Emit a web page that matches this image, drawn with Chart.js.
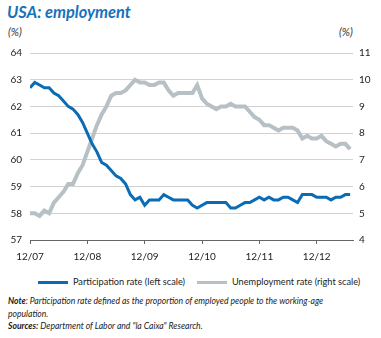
<!DOCTYPE html>
<html>
<head>
<meta charset="utf-8">
<script src="https://cdn.jsdelivr.net/npm/chart.js@4/dist/chart.umd.min.js"></script>
<style>
  html, body { margin: 0; padding: 0; background: #fff; }
  body { width: 381px; height: 338px; position: relative; overflow: hidden; font-family: Lato, "Open Sans", sans-serif; color: #222; }
  #titulo { position: absolute; left: 7px; top: 2px; font-size: 16.4px; font-weight: bold; font-style: italic; color: #1672bb; }
  .unidade { position: absolute; top: 25px; font-size: 11px; font-style: italic; color: #333; }
  #caixa { position: absolute; left: 0; top: 36px; width: 381px; height: 234px; }
  #legenda { position: absolute; left: 38px; top: 276px; font-size: 9.2px; color: #222; white-space: nowrap; }
  #legenda .item { position: absolute; top: 0; }
  #legenda .traco { position: absolute; top: 5px; left: 0; width: 30px; height: 3px; }
  #legenda .texto { position: absolute; left: 35px; top: 0; line-height: 12px; }
  #notas { position: absolute; left: 8px; top: 295px; font-size: 8.6px; font-style: italic; line-height: 12.5px; color: #222; }
</style>
</head>
<body>
<div id="titulo">USA: employment</div>
<div class="unidade" style="left:8px">(%)</div>
<div class="unidade" style="left:339px">(%)</div>
<div id="caixa"><canvas id="grafico_emprego"></canvas></div>
<div id="legenda"></div>
<div id="notas">
  <b>Note</b>: Participation rate defined as the proportion of employed people to the working-age<br>
  population.<br>
  <b>Sources:</b> Department of Labor and "la Caixa" Research.
</div>
<script>
// monthly, 12/07 to 07/13
const taxaParticipacao = [
  62.7, 62.9, 62.8, 62.7, 62.7, 62.5, 62.4, 62.2, 62.0, 61.9, 61.7, 61.4,
  61.0, 60.6, 60.3, 59.9, 59.8, 59.6, 59.4, 59.3, 59.1, 58.7, 58.5, 58.6,
  58.3, 58.5, 58.5, 58.5, 58.7, 58.6, 58.5, 58.5, 58.5, 58.5, 58.3, 58.2,
  58.3, 58.4, 58.4, 58.4, 58.4, 58.4, 58.2, 58.2, 58.3, 58.4, 58.4, 58.5,
  58.6, 58.5, 58.6, 58.5, 58.5, 58.6, 58.6, 58.5, 58.4, 58.7, 58.7, 58.7,
  58.6, 58.6, 58.6, 58.5, 58.6, 58.6, 58.7, 58.7
];
const taxaDesemprego = [
  5.0, 5.0, 4.9, 5.1, 5.0, 5.4, 5.6, 5.8, 6.1, 6.1, 6.5, 6.8,
  7.3, 7.8, 8.3, 8.7, 9.0, 9.4, 9.5, 9.5, 9.6, 9.8, 10.0, 9.9,
  9.9, 9.8, 9.8, 9.9, 9.9, 9.6, 9.4, 9.5, 9.5, 9.5, 9.5, 9.8,
  9.3, 9.1, 9.0, 8.9, 9.0, 9.0, 9.1, 9.0, 9.0, 9.0, 8.8, 8.6,
  8.5, 8.3, 8.3, 8.2, 8.1, 8.2, 8.2, 8.2, 8.1, 7.8, 7.9, 7.8,
  7.8, 7.9, 7.7, 7.6, 7.5, 7.6, 7.6, 7.4
];
const rotulosAno = ['12/07', '12/08', '12/09', '12/10', '12/11', '12/12'];

const pontos = arr => arr.map((v, i) => ({ x: i, y: v }));
const fonteEixo = { family: 'Lato, "Open Sans", sans-serif', size: 10 };

const ctx = document.getElementById('grafico_emprego').getContext('2d');
const grafico = new Chart(ctx, {
  type: 'line',
  data: {
    datasets: [
      {
        label: 'Participation rate (left scale)',
        data: pontos(taxaParticipacao),
        yAxisID: 'y',
        borderColor: '#0a6cb4',
        backgroundColor: '#0a6cb4',
        borderWidth: 3,
        pointRadius: 0,
        tension: 0
      },
      {
        label: 'Unemployment rate (right scale)',
        data: pontos(taxaDesemprego),
        yAxisID: 'y1',
        borderColor: '#b7c1c5',
        backgroundColor: '#b7c1c5',
        borderWidth: 4,
        pointRadius: 0,
        tension: 0
      }
    ]
  },
  options: {
    responsive: true,
    maintainAspectRatio: false,
    animation: false,
    layout: { padding: { top: 17, left: 0, right: 0, bottom: 0 } },
    plugins: {
      tooltip: { enabled: false },
      legend: { display: false }
    },
    scales: {
      x: {
        type: 'linear',
        min: 0,
        max: 67.6,
        grid: { drawOnChartArea: false, drawTicks: true, tickLength: 4, color: '#666' },
        border: { display: true, color: '#666', width: 1 },
        afterBuildTicks: s => { s.ticks = rotulosAno.map((_, i) => ({ value: i * 12 })); },
        ticks: {
          color: '#222',
          font: fonteEixo,
          padding: 7,
          maxRotation: 0,
          callback: v => rotulosAno[v / 12]
        }
      },
      y: {
        position: 'left',
        min: 57,
        max: 64,
        afterFit: s => { s.width = 30; },
        grid: { color: '#d2d2d2', drawTicks: false },
        border: { display: false },
        ticks: { stepSize: 1, color: '#222', font: fonteEixo, padding: 8 }
      },
      y1: {
        position: 'right',
        min: 4,
        max: 11,
        afterFit: s => { s.width = 28; },
        grid: { display: false, drawTicks: false },
        border: { display: false },
        ticks: { stepSize: 1, color: '#222', font: fonteEixo, padding: 6 }
      }
    }
  }
});

// legend built from the chart's own datasets
const posLegenda = [0, 159];
const legenda = document.getElementById('legenda');
grafico.data.datasets.forEach((ds, i) => {
  const item = document.createElement('div');
  item.className = 'item';
  item.style.left = posLegenda[i] + 'px';
  item.innerHTML = '<div class="traco" style="background:' + ds.borderColor + '"></div>' +
    '<div class="texto">' + ds.label + '</div>';
  legenda.appendChild(item);
});
</script>
</body>
</html>
